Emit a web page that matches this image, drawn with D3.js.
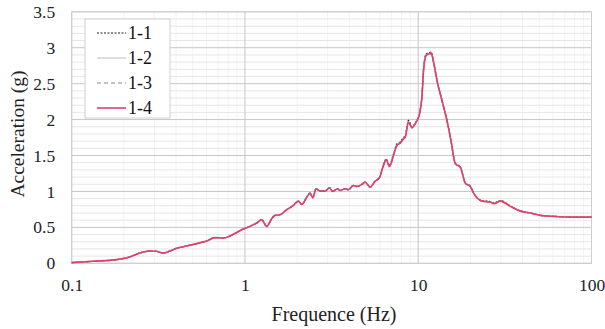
<!DOCTYPE html>
<html><head><meta charset="utf-8">
<script src="https://cdn.jsdelivr.net/npm/d3@7/dist/d3.min.js"></script>
</head>
<body style="margin:0;padding:0;background:#fff;"><svg id="chart" width="605" height="329" style="display:block"></svg>
<script>
const freq = [0.1,0.133,0.181,0.216,0.247,0.282,0.309,0.337,0.369,0.403,0.46,0.526,0.601,0.671,0.75,0.856,0.957,1.068,1.168,1.249,1.335,1.427,1.491,1.594,1.742,1.902,2.033,2.127,2.274,2.376,2.463,2.573,2.714,2.9,3.071,3.213,3.416,3.541,3.785,3.955,4.227,4.423,4.727,4.939,5.279,5.642,5.975,6.252,6.531,6.825,7.198,7.532,7.87,8.22,8.41,8.79,9.19,9.73,10.17,10.5,10.73,11.08,11.47,11.88,12.26,12.83,13.71,14.65,15.45,16.37,17.49,18.69,19.98,20.88,23.35,26.08,27.25,29.79,34.03,38.87,44.41,50.73,60.54,75.62,100];
const s11 = [0.01,0.028,0.051,0.088,0.143,0.171,0.167,0.143,0.171,0.208,0.240,0.274,0.310,0.358,0.352,0.403,0.468,0.514,0.560,0.607,0.514,0.621,0.667,0.676,0.746,0.806,0.865,0.819,0.921,0.976,0.913,1.037,1.004,1.004,1.051,1.0,1.037,1.014,1.037,1.024,1.083,1.069,1.097,1.129,1.060,1.143,1.200,1.350,1.450,1.360,1.52,1.660,1.690,1.750,1.770,1.990,1.900,1.975,2.085,2.320,2.700,2.905,2.930,2.940,2.810,2.550,2.270,1.990,1.712,1.390,1.340,1.118,1.072,0.980,0.870,0.858,0.836,0.872,0.797,0.730,0.702,0.669,0.654,0.644,0.643];
const s12 = [0.01,0.028,0.051,0.088,0.143,0.171,0.167,0.143,0.171,0.208,0.240,0.274,0.310,0.358,0.352,0.403,0.468,0.514,0.560,0.607,0.514,0.621,0.667,0.676,0.746,0.806,0.865,0.819,0.921,0.976,0.913,1.037,1.004,1.004,1.051,1.0,1.037,1.014,1.037,1.024,1.083,1.069,1.097,1.129,1.060,1.143,1.192,1.340,1.442,1.349,1.503,1.642,1.674,1.735,1.757,1.966,1.888,1.965,2.080,2.312,2.684,2.893,2.916,2.925,2.799,2.544,2.266,1.987,1.709,1.386,1.339,1.116,1.070,0.977,0.866,0.853,0.830,0.866,0.793,0.727,0.700,0.667,0.653,0.643,0.643];
const s13 = [0.01,0.028,0.051,0.088,0.143,0.171,0.167,0.143,0.171,0.208,0.240,0.274,0.310,0.358,0.352,0.403,0.468,0.514,0.560,0.607,0.514,0.621,0.667,0.676,0.746,0.806,0.865,0.819,0.921,0.976,0.913,1.037,1.004,1.004,1.051,1.0,1.037,1.014,1.037,1.024,1.083,1.069,1.097,1.129,1.060,1.143,1.195,1.345,1.445,1.352,1.51,1.650,1.680,1.742,1.762,1.978,1.893,1.970,2.082,2.315,2.690,2.898,2.922,2.932,2.804,2.547,2.268,1.988,1.710,1.388,1.339,1.117,1.071,0.978,0.868,0.855,0.833,0.869,0.795,0.728,0.701,0.668,0.653,0.643,0.643];
const s14 = [0.01,0.028,0.051,0.088,0.143,0.171,0.167,0.143,0.171,0.208,0.240,0.274,0.310,0.358,0.352,0.403,0.468,0.514,0.560,0.607,0.514,0.621,0.667,0.676,0.746,0.806,0.865,0.819,0.921,0.976,0.913,1.037,1.004,1.004,1.051,1.0,1.037,1.014,1.037,1.024,1.083,1.069,1.097,1.129,1.060,1.143,1.190,1.338,1.440,1.347,1.5,1.639,1.671,1.732,1.754,1.963,1.885,1.963,2.079,2.310,2.681,2.889,2.912,2.921,2.796,2.542,2.264,1.986,1.708,1.385,1.338,1.115,1.069,0.976,0.865,0.852,0.829,0.865,0.792,0.726,0.699,0.667,0.653,0.643,0.643];
const seriesNames = ["1-1","1-2","1-3","1-4"];
const seriesValues = [s11,s12,s13,s14];
const seriesColors = ["#222222","#c8c8c8","#8a8a8a","#e2406c"];
const seriesDash = ["2,1.5",null,"4,3",null];
const xTicks = [0.1,1,10,100];
const xTickLabels = ["0.1","1","10","100"];
const yTicks = [0,0.5,1,1.5,2,2.5,3,3.5];
const yTickLabels = ["0","0.5","1","1.5","2","2.5","3","3.5"];
const xTitle = "Frequence (Hz)";
const yTitle = "Acceleration (g)";

const FONT = '"Liberation Serif"';
const svg = d3.select("#chart");
const L = 71.7, R = 591.5, T = 11.8, B = 263.3;
const x = d3.scaleLog().domain([0.1,100]).range([L,R]);
const y = d3.scaleLinear().domain([0,3.5]).range([B,T]);

// minor vertical grid
const minorX = [];
[0.1,1,10].forEach(d => { for (let k=2;k<=9;k++) minorX.push(d*k); });
svg.append("g").selectAll("line").data(minorX).join("line")
  .attr("x1", d=>x(d)).attr("x2", d=>x(d)).attr("y1", T).attr("y2", B)
  .attr("stroke", "#f3f3f3").attr("stroke-width", 1);
// minor horizontal grid
const minorY = d3.range(0, 3.501, 0.1).filter(v => Math.abs(v*2 - Math.round(v*2)) > 1e-6);
svg.append("g").selectAll("line").data(minorY).join("line")
  .attr("x1", L).attr("x2", R).attr("y1", d=>y(d)).attr("y2", d=>y(d))
  .attr("stroke", "#e6e6e6").attr("stroke-width", 1);
// major grid
svg.append("g").selectAll("line").data(yTicks).join("line")
  .attr("x1", L).attr("x2", R).attr("y1", d=>y(d)).attr("y2", d=>y(d))
  .attr("stroke", "#c6c6c6").attr("stroke-width", 1);
svg.append("g").selectAll("line").data(xTicks).join("line")
  .attr("x1", d=>x(d)).attr("x2", d=>x(d)).attr("y1", T).attr("y2", B)
  .attr("stroke", "#c6c6c6").attr("stroke-width", 1);
svg.append("rect").attr("x", L).attr("y", T).attr("width", R-L).attr("height", B-T)
  .attr("fill", "none").attr("stroke", "#cfcfcf").attr("stroke-width", 1);

// axes (labels only)
const xAxis = d3.axisBottom(x).tickValues(xTicks).tickFormat((d,i)=>xTickLabels[i]).tickSize(0).tickPadding(0);
const gx = svg.append("g").attr("transform", `translate(0,${B+15})`).call(xAxis);
gx.select(".domain").remove();
gx.attr("font-family", null).attr("font-size", null);
gx.selectAll("text").style("font-family", FONT).style("font-size", "17.5px").attr("fill", "#222");
const yAxis = d3.axisLeft(y).tickValues(yTicks).tickFormat((d,i)=>yTickLabels[i]).tickSize(0).tickPadding(0);
const gy = svg.append("g").attr("transform", `translate(${L-16.5},0)`).call(yAxis);
gy.select(".domain").remove();
gy.attr("font-family", null).attr("font-size", null);
gy.selectAll("text").style("font-family", FONT).style("font-size", "17.5px").attr("fill", "#222");

svg.append("text").attr("x", 334).attr("y", 321).attr("text-anchor", "middle")
  .style("font-family", FONT).style("font-size", "20px").attr("fill", "#222").text(xTitle);
svg.append("text").attr("transform", "translate(24,134) rotate(-90)").attr("text-anchor", "middle")
  .style("font-family", FONT).style("font-size", "19.5px").attr("fill", "#222").text(yTitle);

// lines
const line = d3.line().x((d,i)=>x(freq[i])).y(d=>y(d)).curve(d3.curveMonotoneX);
seriesValues.forEach((vals, si) => {
  svg.append("path").datum(vals).attr("d", line).attr("fill", "none")
    .attr("stroke", seriesColors[si]).attr("stroke-width", si===3 ? 1.6 : 1.3)
    .attr("stroke-dasharray", seriesDash[si]);
});

// legend
const lg = svg.append("g");
lg.append("rect").attr("x", 85).attr("y", 19).attr("width", 85).attr("height", 99)
  .attr("fill", "#fff").attr("stroke", "#d0d0d0").attr("stroke-width", 1);
seriesNames.forEach((n, i) => {
  const yy = 33 + i*25;
  lg.append("line").attr("x1", 97).attr("x2", 126).attr("y1", yy).attr("y2", yy)
    .attr("stroke", seriesColors[i]).attr("stroke-width", i===3 ? 1.6 : 1.2)
    .attr("stroke-dasharray", seriesDash[i]);
  lg.append("text").attr("x", 128).attr("y", yy + 6).style("font-family", FONT)
    .style("font-size", "18px").attr("fill", "#111").text(n);
});
</script></body></html>
